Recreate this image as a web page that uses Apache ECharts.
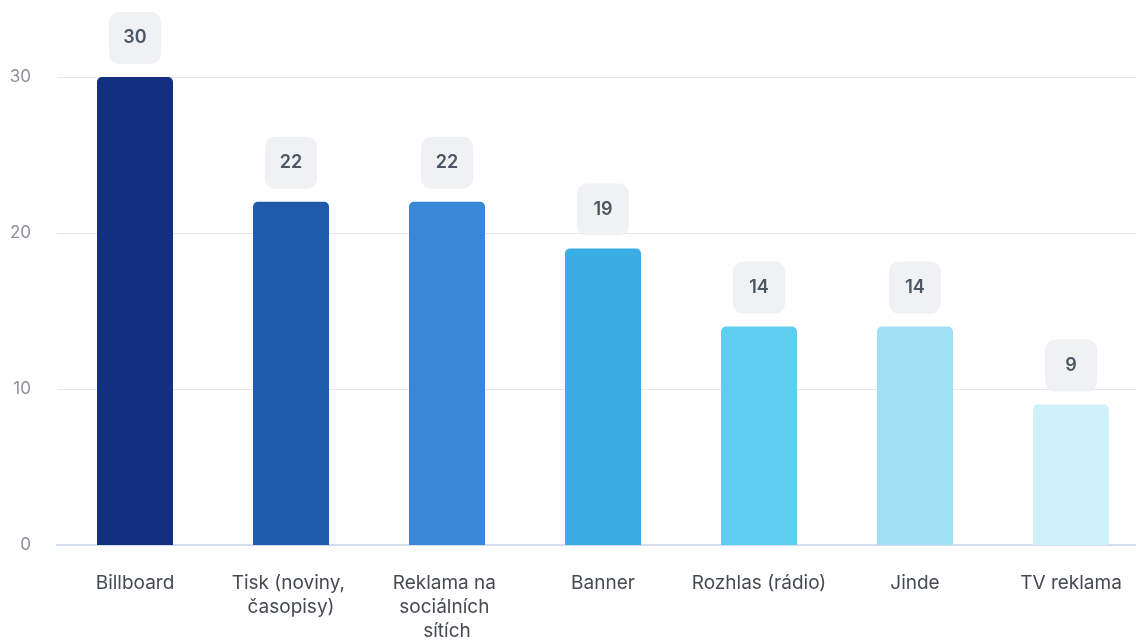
<!DOCTYPE html>
<html>
<head>
    <meta charset="utf-8">
    <title>Reklama</title>
    <script src="https://cdn.jsdelivr.net/npm/echarts@6/dist/echarts.min.js"></script>
    <style>
        html, body { margin: 0; padding: 0; background: #fff; }
    </style>
</head>
<body>
    <div id="main" style="width: 1136px;height:644px;"></div>
    <script type="text/javascript">
        var categories = ['Billboard', 'Tisk (noviny, časopisy)', 'Reklama na sociálních sítích', 'Banner', 'Rozhlas (rádio)', 'Jinde', 'TV reklama'];
        var values = [30, 22, 22, 19, 14, 14, 9];
        var barColors = ['#122f80', '#1f5bab', '#3788d6', '#3badE5', '#5fcdef', '#9ee1f4', '#cdf0f9'];
        var yTicks = [0, 10, 20, 30];

        var myChart = echarts.init(document.getElementById('main'));

        var option = {
            animation: false,
            textStyle: { fontFamily: 'Inter' },
            grid: {
                left: 57,
                right: -13,
                top: 77,
                bottom: 99,
                outerBoundsMode: 'none'
            },
            xAxis: {
                type: 'category',
                data: categories,
                axisLine: { lineStyle: { color: '#d3dcf0', width: 2 } },
                axisTick: { show: false },
                axisLabel: {
                    color: '#454a52',
                    fontSize: 19,
                    lineHeight: 24,
                    margin: 26,
                    width: 150,
                    overflow: 'break',
                    interval: 0
                }
            },
            yAxis: {
                type: 'value',
                min: yTicks[0],
                max: yTicks[yTicks.length - 1],
                interval: 10,
                axisLabel: {
                    color: '#8c9199',
                    fontSize: 17,
                    margin: 26
                },
                splitLine: { lineStyle: { color: '#e5e7eb', width: 1 } }
            },
            series: [{
                type: 'bar',
                barWidth: 76,
                data: values.map(function (v, i) {
                    return { value: v, itemStyle: { color: barColors[i] } };
                }),
                itemStyle: { borderRadius: [5, 5, 0, 0] },
                label: {
                    show: true,
                    position: 'top',
                    distance: 13,
                    color: '#4b5563',
                    fontSize: 18,
                    fontWeight: 600,
                    backgroundColor: '#f0f1f2',
                    borderRadius: 10,
                    width: 24,
                    align: 'center',
                    lineHeight: 22,
                    padding: [15, 14]
                }
            }]
        };
        myChart.setOption(option);
    </script>
</body>
</html>
